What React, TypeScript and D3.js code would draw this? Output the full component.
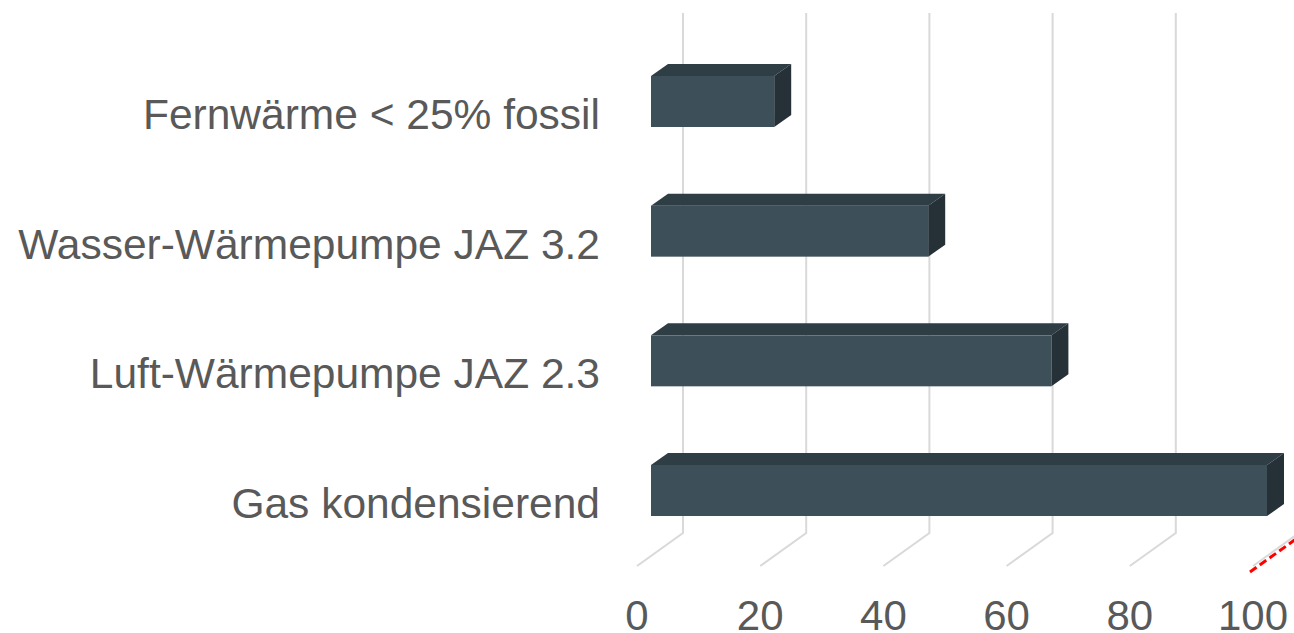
import React from "react";
import * as d3 from "d3";

// categories top to bottom
const categories = [
  "Fernwärme < 25% fossil",
  "Wasser-Wärmepumpe JAZ 3.2",
  "Luft-Wärmepumpe JAZ 2.3",
  "Gas kondensierend",
];
const values = [20, 45, 65, 100];
const ticks = [0, 20, 40, 60, 80, 100];

const W = 1294;
const H = 633;

export default function App() {
  // front plane of the bars
  const x = d3.scaleLinear().domain([0, 100]).range([651, 1267]);
  const y = d3.scalePoint<string>().domain(categories).range([101.5, 490.5]);
  const barH = 51;

  // 3d offsets
  const dx = 17, dy = -12; // bar depth
  const wallDx = 32; // back wall shift
  const floorDx = -14; // front edge of floor
  const wallTop = 13, floorBack = 533, floorFront = 566;

  const front = "#3d4f59";
  const top = "#2f3d45";
  const side = "#253037";
  const grid = "#d9d9d9";
  const font = "Arial, 'Liberation Sans', sans-serif";

  return (
    <svg width={W} height={H} style={{ position: "absolute", left: 0, top: 0 }}>
      <rect width={W} height={H} fill="#fff" />
      {ticks.map((t) => (
        <polyline
          key={"g" + t}
          points={`${x(t) + wallDx},${wallTop} ${x(t) + wallDx},${floorBack} ${x(t) + floorDx},${floorFront}`}
          fill="none"
          stroke={grid}
          strokeWidth={2}
        />
      ))}
      {/* red dashed marker on the 100 floor line */}
      <line
        x1={x(100) + floorDx - 3}
        y1={floorFront + 6}
        x2={x(100) + floorDx - 3 + 60}
        y2={floorFront + 6 - 60 * (floorFront - floorBack) / (wallDx - floorDx)}
        stroke="#ff0000"
        strokeWidth={3}
        strokeDasharray="8 4"
      />
      {categories.map((c, i) => {
        const y0 = (y(c) as number) - barH / 2;
        const y1 = y0 + barH;
        const x0 = x(0);
        const x1 = x(values[i]);
        return (
          <g key={c}>
            <polygon
              points={`${x0},${y0} ${x0 + dx},${y0 + dy} ${x1 + dx},${y0 + dy} ${x1},${y0}`}
              fill={top}
            />
            <polygon
              points={`${x1},${y0} ${x1 + dx},${y0 + dy} ${x1 + dx},${y1 + dy} ${x1},${y1}`}
              fill={side}
            />
            <rect x={x0} y={y0} width={x1 - x0} height={barH} fill={front} />
            <text
              x={600}
              y={y1 + 2}
              textAnchor="end"
              fontFamily={font}
              fontSize={42.5}
              fill="#595959"
            >
              {c}
            </text>
          </g>
        );
      })}
      {ticks.map((t) => (
        <text
          key={"t" + t}
          x={x(t) + floorDx}
          y={630}
          textAnchor="middle"
          fontFamily={font}
          fontSize={42}
          fill="#595959"
        >
          {t}
        </text>
      ))}
    </svg>
  );
}
